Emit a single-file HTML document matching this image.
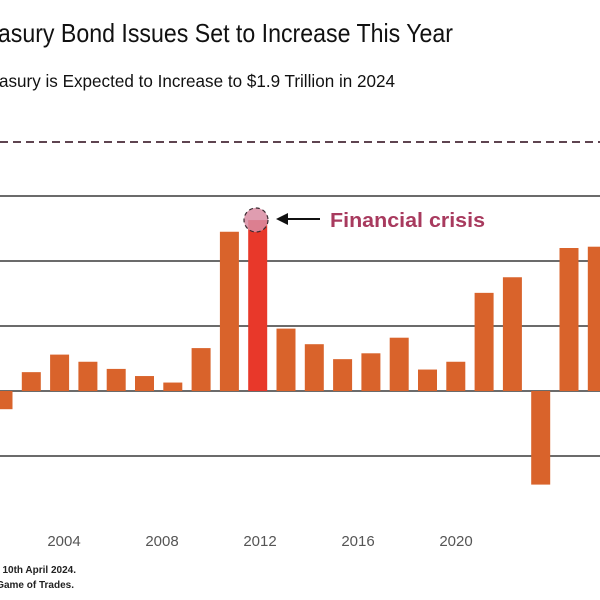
<!DOCTYPE html>
<html><head><meta charset="utf-8"><style>
html,body{margin:0;padding:0;background:#fff;width:600px;height:600px;overflow:hidden}
svg{display:block;font-family:"Liberation Sans","DejaVu Sans",sans-serif}
</style></head><body>
<svg id="chart" width="600" height="600" viewBox="0 0 600 600">
<text x="-36" y="42" font-size="26" textLength="489" lengthAdjust="spacingAndGlyphs" fill="#111">Treasury Bond Issues Set to Increase This Year</text>
<text x="-26" y="87" font-size="17.5" textLength="421" lengthAdjust="spacingAndGlyphs" fill="#111">Treasury is Expected to Increase to $1.9 Trillion in 2024</text>
<line x1="0" y1="142" x2="600" y2="142" stroke="#5e4450" stroke-width="2" stroke-dasharray="8,5"/>
<g id="grid"></g>
<g id="bars"></g>
<g id="xlabels"></g>
<circle cx="256" cy="220" r="12" fill="#d98ca2" fill-opacity="0.85" stroke="#3a2a30" stroke-width="1.2" stroke-dasharray="4,3"/>
<g>
<line x1="286" y1="219" x2="320" y2="219" stroke="#111" stroke-width="2"/>
<polygon points="276,219 288,213 288,225" fill="#111"/>
</g>
<text x="330" y="227" font-size="20.5" font-weight="bold" textLength="155" lengthAdjust="spacingAndGlyphs" fill="#a83a5e">Financial crisis</text>
<text x="76" y="573" font-size="10" font-weight="bold" text-anchor="end" fill="#222">Data through 10th April 2024.</text>
<text x="74" y="588" font-size="10" font-weight="bold" text-anchor="end" fill="#222">Source: US Treasury, Game of Trades.</text>
</svg>
<script>
const years = [2000,2001,2002,2003,2004,2005,2006,2007,2008,2009,2010,2011,2012,2013,2014,2015,2016,2017,2018,2019,2020,2021];
const values = [-0.28,0.29,0.56,0.45,0.34,0.23,0.13,0.66,2.45,2.63,0.96,0.72,0.49,0.58,0.82,0.33,0.45,1.51,1.75,-1.44,2.2,2.22];
const highlightYear = 2009;
const gridValues = [-1,0,1,2,3];
const tickYears = [2004,2008,2012,2016,2020];
const tickLabels = ["2004","2008","2012","2016","2020"];
const NS="http://www.w3.org/2000/svg";
function yScale(v){return 391 - v*65;}
function xBar(i){return 3 + i*28.3;}
function xTick(y){return 64 + (y-2004)*24.5;}
const grid=document.getElementById('grid');
gridValues.forEach(g=>{
  const l=document.createElementNS(NS,'line');
  l.setAttribute('x1',0);l.setAttribute('x2',600);
  l.setAttribute('y1',yScale(g));l.setAttribute('y2',yScale(g));
  l.setAttribute('stroke','#3a3a3a');l.setAttribute('stroke-width','1.5');
  
  
  grid.appendChild(l);
});
const bars=document.getElementById('bars');
years.forEach((yr,i)=>{
  const v=values[i];
  const r=document.createElementNS(NS,'rect');
  const cx=xBar(i);
  r.setAttribute('x',cx-9.5);r.setAttribute('width',19);
  r.setAttribute('y',Math.min(yScale(v),yScale(0)));
  r.setAttribute('height',Math.abs(yScale(v)-yScale(0)));
  r.setAttribute('fill',yr===highlightYear?'#e8382a':'#d9632b');
  
  
  bars.appendChild(r);
});
const xl=document.getElementById('xlabels');
tickYears.forEach((y,i)=>{
  const t=document.createElementNS(NS,'text');
  t.setAttribute('x',xTick(y));t.setAttribute('y',546);
  t.setAttribute('text-anchor','middle');t.setAttribute('font-size','15');
  t.setAttribute('fill','#555');
  t.textContent=tickLabels[i];
  
  
  xl.appendChild(t);
});
</script>
</body></html>
